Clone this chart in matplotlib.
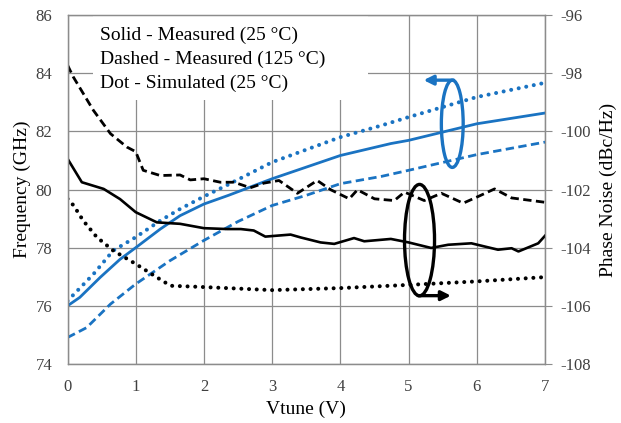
import matplotlib
matplotlib.use('Agg')
import matplotlib.pyplot as plt
from matplotlib.patches import Ellipse, Rectangle

plt.rcParams['font.family'] = ['Liberation Serif', 'DejaVu Serif']
plt.rcParams['axes.unicode_minus'] = False

blue = '#1a73c2'

# frequency curves (left axis, GHz)
v_f25 = [0, 0.18, 0.48, 0.77, 1.0, 1.36, 1.65, 2.0, 2.36, 3.0, 4.0, 4.74, 5.0, 6.0, 7.0]
f_meas25 = [76.0, 76.29, 76.98, 77.6, 78.0, 78.64, 79.1, 79.5, 79.8, 80.37, 81.17, 81.58, 81.69, 82.26, 82.63]

v_fsim = [0, 0.38, 0.67, 1.0, 1.36, 1.65, 2.0, 2.33, 3.0, 4.0, 4.6, 5.0, 6.0, 7.0]
f_sim25 = [76.17, 77.09, 77.9, 78.36, 78.93, 79.33, 79.76, 80.14, 80.94, 81.8, 82.2, 82.49, 83.18, 83.67]

v_f125 = [0, 0.28, 0.63, 1.0, 1.5, 2.0, 2.5, 3.0, 3.5, 4.0, 4.6, 5.0, 6.0, 7.0]
f_meas125 = [74.91, 75.25, 76.06, 76.75, 77.55, 78.25, 78.9, 79.45, 79.8, 80.2, 80.45, 80.66, 81.2, 81.63]

# phase noise curves (right axis, dBc/Hz)
v_pn25 = [0, 0.21, 0.53, 0.77, 1.0, 1.31, 1.65, 2.0, 2.34, 2.54, 2.73, 2.9, 3.27, 3.42,
          3.71, 3.91, 4.2, 4.35, 4.74, 5.0, 5.33, 5.58, 5.92, 6.31, 6.51, 6.61, 6.9, 7.0]
pn_meas25 = [-100.94, -101.75, -101.98, -102.33, -102.78, -103.13, -103.18, -103.33, -103.36,
             -103.36, -103.41, -103.62, -103.55, -103.65, -103.82, -103.87, -103.67, -103.78,
             -103.70, -103.82, -104.01, -103.90, -103.85, -104.07, -104.02, -104.13, -103.85, -103.59]

v_pn125 = [0, 0.085, 0.38, 0.63, 0.87, 1.0, 1.11, 1.36, 1.65, 1.8, 2.0, 2.24, 2.44, 2.68, 2.88,
           3.1, 3.37, 3.66, 3.86, 4.13, 4.25, 4.5, 4.79, 4.94, 5.23, 5.48, 5.8, 6.02, 6.26, 6.51, 7.0]
pn_meas125 = [-97.72, -98.13, -99.28, -100.08, -100.54, -100.70, -101.34, -101.52, -101.50,
              -101.67, -101.63, -101.75, -101.75, -101.94, -101.78, -101.69, -102.13, -101.69,
              -102.01, -102.32, -102.01, -102.32, -102.38, -102.09, -102.38, -102.13, -102.47,
              -102.24, -101.98, -102.29, -102.44]

v_pnsim = [0, 0.09, 0.23, 0.43, 0.67, 1.0, 1.31, 1.51, 1.85, 2.34, 3.0, 4.0, 5.0, 6.0, 6.95]
pn_sim25 = [-102.32, -102.55, -103.07, -103.64, -104.10, -104.56, -105.02, -105.31, -105.34,
            -105.39, -105.46, -105.39, -105.28, -105.16, -105.02]

notes = ['Solid - Measured (25 \u00b0C)', 'Dashed - Measured (125 \u00b0C)', 'Dot - Simulated (25 \u00b0C)']

fig = plt.figure(figsize=(6.21, 4.23), dpi=100)
ax = fig.add_axes([0.1087, 0.1395, 0.769, 0.825])
ax2 = ax.twinx()

dot = (0, (0.01, 1.9))
dash = (0, (3, 1.6))

ax.plot(v_f25, f_meas25, color=blue, lw=2.0, zorder=3)
ax.plot(v_fsim, f_sim25, color=blue, lw=2.9, linestyle=dot, dash_capstyle='round', zorder=3)
ax.plot(v_f125, f_meas125, color=blue, lw=2.0, linestyle=dash, zorder=3)

ax2.plot(v_pn25, pn_meas25, color='black', lw=1.9)
ax2.plot(v_pn125, pn_meas125, color='black', lw=2.0, linestyle=dash)
ax2.plot(v_pnsim, pn_sim25, color='black', lw=2.9, linestyle=dot, dash_capstyle='round')

ax.set_xlim(0, 7)
ax.set_ylim(74, 86)
ax2.set_ylim(-108, -96)
ax.set_xticks(range(0, 8))
ax.set_yticks(range(74, 87, 2))
ax2.set_yticks(range(-108, -95, 2))

ax.set_axisbelow(True)
ax.grid(True, color='#8c8c8c', lw=0.9)
for a in (ax, ax2):
    for s in a.spines.values():
        s.set_color('#8c8c8c')
        s.set_linewidth(0.9)
ax.tick_params(axis='both', length=0, labelsize=12, colors='#404040', pad=11)
ax.tick_params(axis='x', pad=11)
ax2.tick_params(axis='y', length=5, color='#8c8c8c', labelsize=12, labelcolor='#404040', pad=6)

ax.set_xlabel('Vtune (V)', fontsize=14, labelpad=4)
ax.set_ylabel('Frequency (GHz)', fontsize=14, labelpad=3)
ax2.set_ylabel('Phase Noise (dBc/Hz)', fontsize=14, labelpad=6)

# white box behind the notes
ax.add_patch(Rectangle((0.38, 83.08), 4.03, 3.0, facecolor='white', edgecolor='none', zorder=1))
for i, t in enumerate(notes):
    ax.text(0.48, 85.3 - i * 0.82, t, fontsize=14, va='center', ha='left', zorder=4)

# ellipse markers with arrows
ax.add_patch(Ellipse((5.64, 82.26), 0.32, 3.0, fill=False, edgecolor=blue, lw=2.4, zorder=4))
ax.annotate('', xy=(5.22, 83.76), xytext=(5.66, 83.76),
            arrowprops=dict(arrowstyle='-|>', color=blue, lw=2.4, mutation_scale=14, shrinkA=0, shrinkB=0))
ax2.add_patch(Ellipse((5.16, -103.74), 0.44, 3.83, fill=False, edgecolor='black', lw=2.4))
ax2.annotate('', xy=(5.62, -105.65), xytext=(5.14, -105.65),
             arrowprops=dict(arrowstyle='-|>', color='black', lw=2.4, mutation_scale=14, shrinkA=0, shrinkB=0))

fig.savefig('out.png', dpi=100, facecolor='white')
